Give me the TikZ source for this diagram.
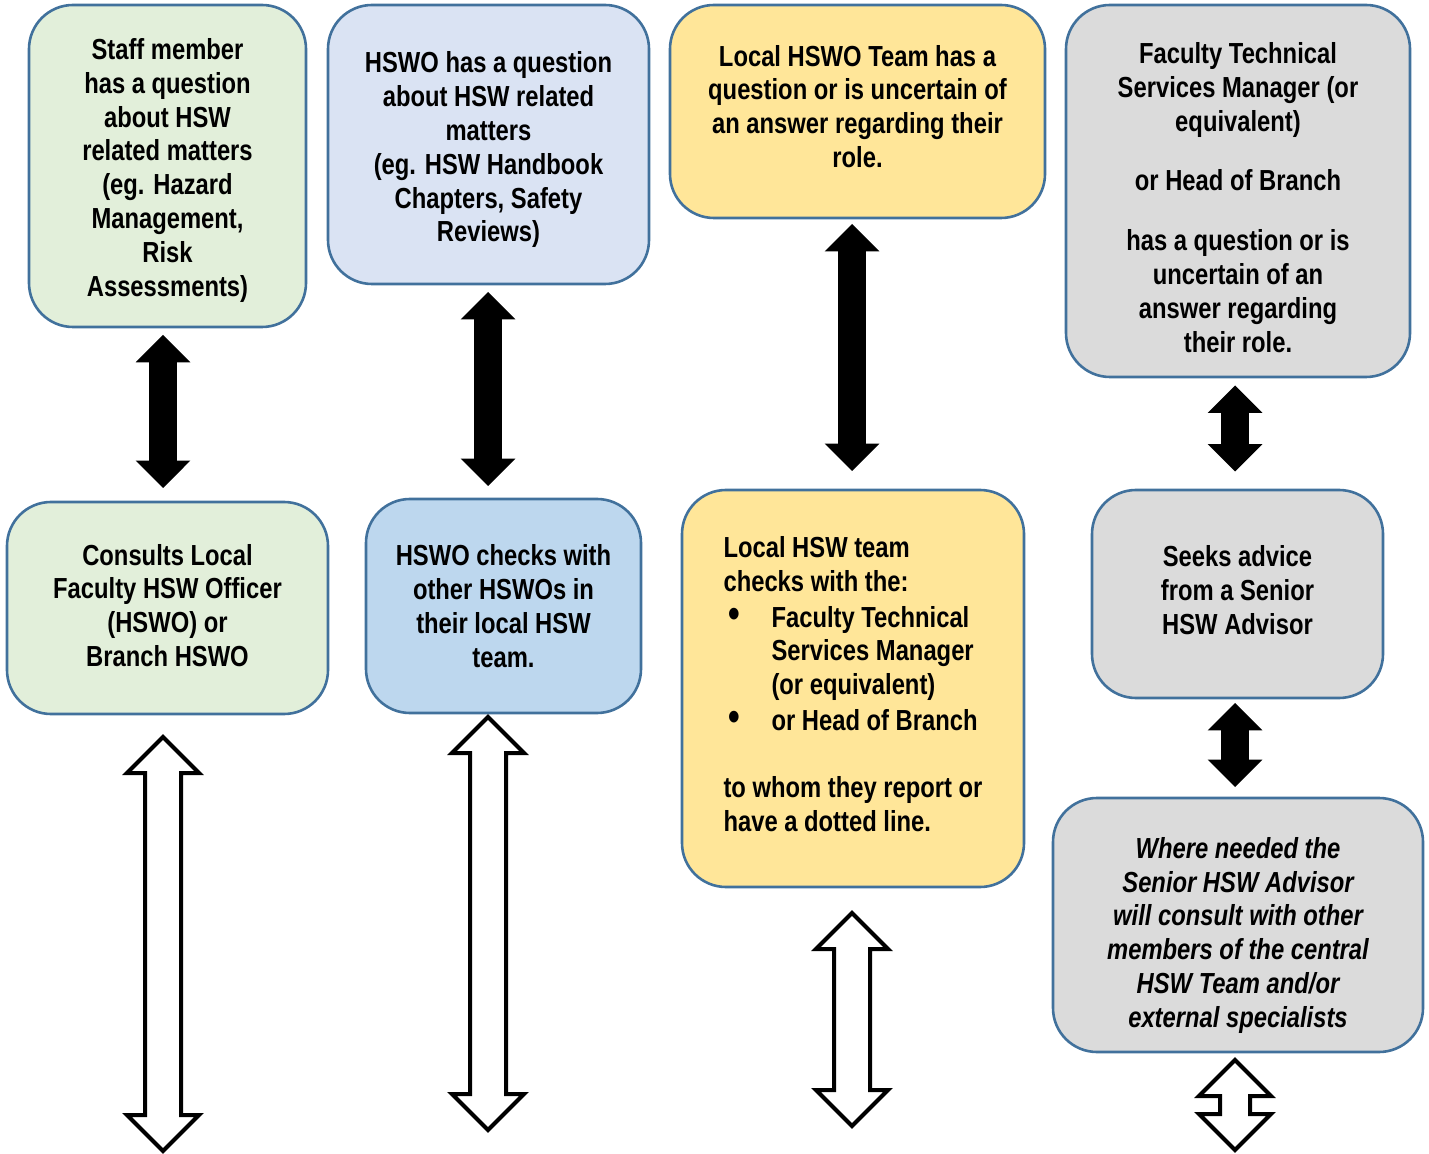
\documentclass[tikz,border=0pt]{standalone}
\usepackage{fontspec}
\setmainfont[FakeStretch=0.82]{Liberation Sans}
\usetikzlibrary{shapes.arrows}

\definecolor{hswgreen}{HTML}{E2EFDA}
\definecolor{hswlilac}{HTML}{DAE3F3}
\definecolor{hswyellow}{HTML}{FFE699}
\definecolor{hswgrey}{HTML}{DBDBDB}
\definecolor{hswblue}{HTML}{BDD7EE}
\definecolor{hswedge}{HTML}{41719C}

\begin{document}
\begin{tikzpicture}[x=0.5pt, y=-0.5pt,
       box/.style={draw=hswedge, line width=1.3pt, rounded corners=22pt, align=center,
                   inner sep=0pt, font=\fontsize{14.5pt}{16.9pt}\selectfont\bfseries},
       blk/.style={double arrow, fill=black, draw=none, rotate=90,
                   inner xsep=0pt, inner ysep=6.75pt,
                   double arrow tip angle=90, double arrow head extend=6.75pt},
       hollow/.style={double arrow, fill=white, draw=black, line width=2pt, rotate=90,
                   inner xsep=0pt, inner ysep=8pt,
                   double arrow tip angle=90, double arrow head extend=9pt}]
       \useasboundingbox (0,0) rectangle (1429,1154);

       \node[box, fill=hswgreen, minimum width=138.5pt, minimum height=161pt] (staff) at (167.5,166)
       {\\[-2pt]Staff member\\ has a question\\ about HSW\\ related matters\\ (eg. Hazard\\ Management,\\ Risk\\ Assessments)};
       \node[box, fill=hswlilac, minimum width=160.5pt, minimum height=139.5pt] (hswoq) at (488.5,144.5)
       {\\[-1pt]HSWO has a question\\ about HSW related\\ matters\\ (eg. HSW Handbook\\ Chapters, Safety\\ Reviews)};
       \node[box, fill=hswyellow, minimum width=187.5pt, minimum height=106.5pt] (localq) at (857.5,111.5)
       {\\[-11.5pt]Local HSWO Team has a\\ question or is uncertain of\\ an answer regarding their\\ role.};
       \node[box, fill=hswgrey, minimum width=172pt, minimum height=186pt] (ftsmq) at (1238,191)
       {\\[0pt]Faculty Technical\\ Services Manager (or\\ equivalent)\\[13pt] or Head of Branch\\[13pt]
        has a question or is\\ uncertain of an\\ answer regarding\\ their role.};

       \node[box, fill=hswgreen, minimum width=160.5pt, minimum height=106pt] (consult) at (167.5,608)
       {\\[-9pt]Consults Local\\ Faculty HSW Officer\\ (HSWO) or\\ Branch HSWO};
       \node[box, fill=hswblue, minimum width=137.5pt, minimum height=107pt] (hswochk) at (503.5,606)
       {HSWO checks with\\ other HSWOs in\\ their local HSW\\ team.};
       \node[box, fill=hswyellow, minimum width=171pt, minimum height=198.5pt, align=left] (localchk) at (853,688.5)
       {\\[-11pt]Local HSW team\\ checks with the:\\[1pt]
        \makebox[24pt][l]{\,\scalebox{1.4}{\textbullet}}Faculty Technical\\
        \hspace*{24pt}Services Manager\\ \hspace*{24pt}(or equivalent)\\[1pt]
        \makebox[24pt][l]{\,\scalebox{1.4}{\textbullet}}or Head of Branch\\[16.5pt]
        to whom they report or\\ have a dotted line.};
       \node[box, fill=hswgrey, minimum width=145.5pt, minimum height=104pt] (seeks) at (1237.5,594)
       {\\[-10pt]Seeks advice\\ from a Senior\\ HSW Advisor};
       \node[box, fill=hswgrey, minimum width=185pt, minimum height=127pt,
             font=\fontsize{14.5pt}{16.9pt}\selectfont\bfseries\itshape] (central) at (1238,925)
       {\\[4pt]Where needed the\\ Senior HSW Advisor\\ will consult with other\\ members of the central\\
        HSW Team and/or\\ external specialists};

       \node[blk, minimum height=76.5pt] (a1) at (163,411.5) {};
       \node[blk, minimum height=97pt] (a2) at (488,389) {};
       \node[blk, minimum height=123.5pt] (a3) at (852,347.5) {};
       \node[blk, minimum height=43pt] (a4) at (1235,428.5) {};
       \node[blk, minimum height=42pt] (a5) at (1235,745) {};

       \node[hollow, minimum height=207pt] (w1) at (163,944) {};
       \node[hollow, minimum height=206.5pt] (w2) at (488,923.5) {};
       \node[hollow, minimum height=106.5pt] (w3) at (852,1019.5) {};
       \node[hollow, minimum height=45pt, inner ysep=6.5pt,
             double arrow head extend=10.5pt] (w4) at (1235,1105) {};
\end{tikzpicture}
\end{document}
